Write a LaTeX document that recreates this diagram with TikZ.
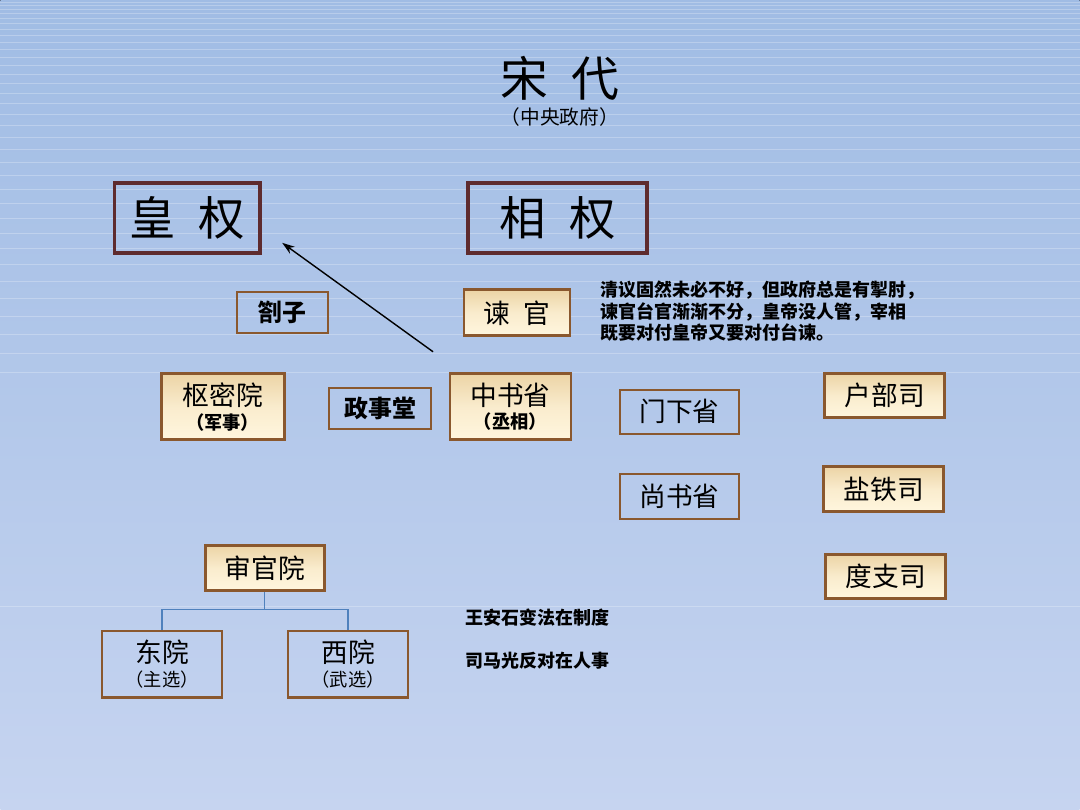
\documentclass[tikz,border=0pt]{standalone}
\usepackage{fontspec}
\setmainfont{Noto Sans CJK SC}
\usetikzlibrary{arrows.meta}
\definecolor{bgtop}{RGB}{160,188,228}
\definecolor{bgbottom}{RGB}{198,212,240}
\definecolor{powerframe}{RGB}{94,43,46}
\definecolor{frame}{RGB}{138,88,46}
\definecolor{creamtop}{RGB}{236,212,166}
\definecolor{creambottom}{RGB}{255,246,222}
\definecolor{linkblue}{RGB}{79,129,189}
\newlength\pxu
\setlength\pxu{0.025cm}
\tikzset{
  powerbox/.style={draw=powerframe, line width=2.4pt, minimum width=#1, minimum height=70\pxu,
    font=\fontsize{33}{38}\selectfont},
  plainbox/.style={draw=frame, line width=1.5pt, font=\fontsize{19}{22}\selectfont},
  creambox/.style={draw=frame, line width=2pt, top color=creamtop, bottom color=creambottom,
    middle color=creambottom!70!creamtop, font=\fontsize{19}{22}\selectfont},
  boldbox/.style={draw=frame, line width=1.5pt, font=\fontsize{17}{20}\selectfont\bfseries},
  note/.style={font=\fontsize{12.8}{15.3}\selectfont\bfseries, inner sep=0pt, align=left},
  link/.style={draw=linkblue, line width=1.1pt}
}
\newcommand{\subline}[1]{{\fontsize{13}{15}\selectfont #1}}
\begin{document}
\begin{tikzpicture}[x=\pxu, y=-\pxu]
  % background
  \fill[top color=bgtop, bottom color=bgbottom] (0,0) rectangle (1080,810);
  \foreach \yy in {2,5,9,13,18,23,29,35,42,49,57,65,74,83,93,103,114,125,137,149,162,175,189,203,218,233,249,265,282,299,317,335,354,373}
    \draw[white, opacity=0.25, line width=0.5pt] (0,\yy) -- (1080,\yy);
  \draw[white, opacity=0.25, line width=0.5pt] (0,607) -- (1080,607);

  % title
  \node (title) at (560,78) {\fontsize{34}{40}\selectfont 宋\hspace{0.5em}代};
  \node (subtitle) at (560,117) {\fontsize{14}{16}\selectfont （中央政府）};

  % powers
  \node[powerbox=146\pxu] (huang) at (187,218) {皇\hspace{0.5em}权};
  \node[powerbox=179\pxu] (xiang) at (557.5,218) {相\hspace{0.5em}权};

  \node[boldbox, minimum width=91\pxu, minimum height=41\pxu] (zhazi) at (282.5,312.5) {劄子};
  \node[creambox, minimum width=106\pxu, minimum height=46\pxu] (jianguan) at (517,313) {谏\hspace{0.5em}官};
  \node[note, anchor=north west] (remark) at (600,281)
    {清议固然未必不好，但政府总是有掣肘，\\谏官台官渐渐不分，皇帝没人管，宰相\\既要对付皇帝又要对付台谏。};

  % row of offices
  \node[creambox, minimum width=123\pxu, minimum height=66\pxu, align=center] (shumi) at (222.5,407)
    {枢密院\\[-5pt]\subline{\bfseries （军事）}};
  \node[boldbox, minimum width=102\pxu, minimum height=41\pxu] (zhengshi) at (380,408.5) {政事堂};
  \node[creambox, minimum width=121\pxu, minimum height=66\pxu, align=center] (zhongshu) at (510.5,407)
    {中书省\\[-5pt]\subline{\bfseries （丞相）}};
  \node[plainbox, minimum width=119\pxu, minimum height=44\pxu] (menxia) at (679.5,412) {门下省};
  \node[plainbox, minimum width=119\pxu, minimum height=45\pxu] (shangshu) at (679.5,496.5) {尚书省};

  \node[creambox, minimum width=120\pxu, minimum height=44\pxu] (hubu) at (885,396) {户部司};
  \node[creambox, minimum width=120\pxu, minimum height=45\pxu] (yantie) at (884,489.5) {盐铁司};
  \node[creambox, minimum width=120\pxu, minimum height=44\pxu] (duzhi) at (886,577) {度支司};

  % arrow to the emperor
  \coordinate (armtail) at (433,352);
  \coordinate (armhead) at (282,243);
  \draw[-{Stealth[length=9pt,width=6pt]}, line width=1pt] (armtail) -- (armhead);

  % personnel
  \node[creambox, minimum width=119\pxu, minimum height=45\pxu] (shenguan) at (264.5,568.5) {审官院};
  \node[plainbox, minimum width=120\pxu, minimum height=67\pxu, align=center] (dongyuan) at (162,664.5)
    {东院\\[-5pt]\subline{（主选）}};
  \node[plainbox, minimum width=120\pxu, minimum height=67\pxu, align=center] (xiyuan) at (348,664.5)
    {西院\\[-5pt]\subline{（武选）}};
  \coordinate (fork) at (264.5,610);
  \draw[link] (shenguan.south) -- (fork) -| (dongyuan.north);
  \draw[link] (fork) -| (xiyuan.north);

  \node[note, anchor=west] (wang) at (465,618) {王安石变法在制度};
  \node[note, anchor=west] (sima) at (465,661) {司马光反对在人事};
\end{tikzpicture}
\end{document}
